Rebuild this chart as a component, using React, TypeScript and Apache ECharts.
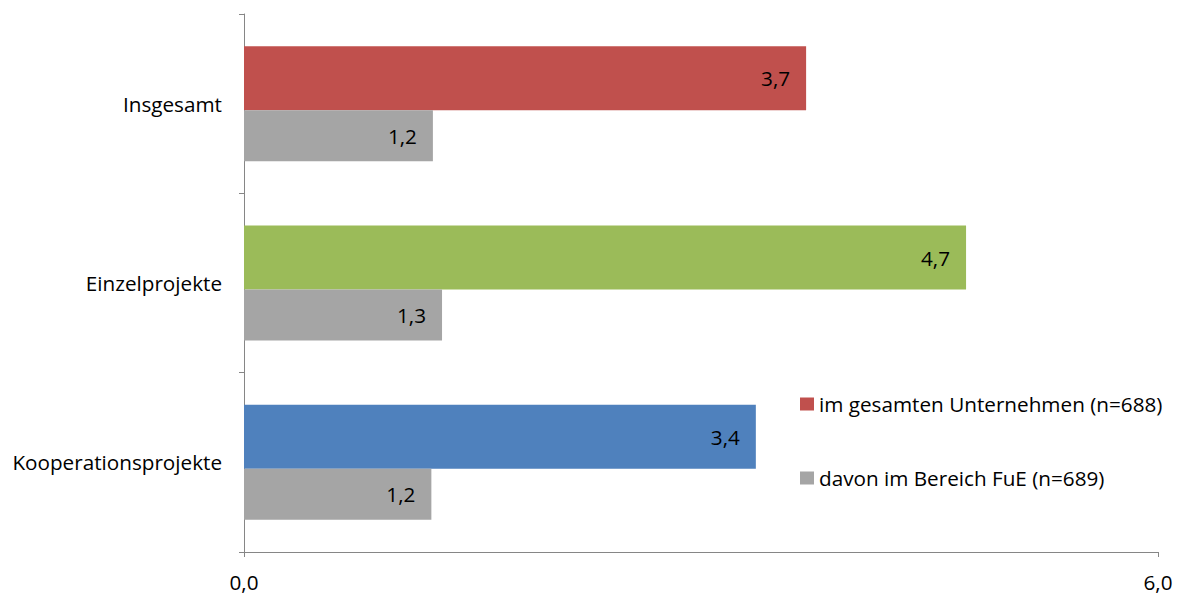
import React, { useEffect, useRef } from "react";
import * as echarts from "echarts";

const categories = ["Insgesamt", "Einzelprojekte", "Kooperationsprojekte"];
const seriesNames = ["im gesamten Unternehmen (n=688)", "davon im Bereich FuE (n=689)"];
const gesamtValues = [3.69, 4.74, 3.36];
const fueValues = [1.24, 1.3, 1.23];
const categoryColors = ["#C0504D", "#9BBB59", "#4F81BD"];
const grayColor = "#A5A5A5";
const xTicks = [0, 6];

const FONT = "'Open Sans', sans-serif";
const FS = 20.7;
const fmt = (v: number) => v.toFixed(1).replace(".", ",");

export default function App() {
  const ref = useRef<HTMLDivElement>(null);
  useEffect(() => {
    if (!ref.current) return;
    const chart = echarts.init(ref.current, null, { renderer: "svg" });
    const labelCfg = {
      show: true,
      position: "insideRight",
      distance: 16,
      color: "#000",
      fontSize: FS,
      fontFamily: FONT,
      formatter: (p: any) => fmt(p.value),
    };
    chart.setOption({
      animation: false,
      textStyle: { fontFamily: FONT },
      grid: { left: 244, right: 22, top: 14, bottom: 43, containLabel: false },
      legend: {
        orient: "vertical",
        left: 795,
        top: 387,
        icon: "rect",
        itemWidth: 14,
        itemHeight: 13,
        itemGap: 50,
        textStyle: { fontSize: FS, color: "#000", fontFamily: FONT, lineHeight: 24 },
        data: [
          { name: seriesNames[0], itemStyle: { color: categoryColors[0] } },
          { name: seriesNames[1], itemStyle: { color: grayColor } },
        ],
      },
      xAxis: {
        type: "value",
        min: xTicks[0],
        max: xTicks[1],
        interval: 6,
        axisLine: { show: true, lineStyle: { color: "#868686", width: 1 } },
        axisTick: { show: true, length: 5, lineStyle: { color: "#868686" } },
        splitLine: { show: false },
        axisLabel: { formatter: (v: number) => fmt(v), fontSize: FS, color: "#000", margin: 19, fontFamily: FONT },
      },
      yAxis: {
        type: "category",
        inverse: true,
        data: categories,
        axisLine: { show: true, lineStyle: { color: "#868686", width: 1 } },
        axisTick: { show: true, length: 5, lineStyle: { color: "#868686" } },
        axisLabel: { fontSize: FS, color: "#000", margin: 22, fontFamily: FONT },
      },
      series: [
        {
          name: seriesNames[0],
          type: "bar",
          barWidth: 64,
          barGap: "0%",
          itemStyle: { color: categoryColors[0] },
          data: gesamtValues.map((v, i) => ({ value: v, itemStyle: { color: categoryColors[i] } })),
          label: labelCfg,
        },
        {
          name: seriesNames[1],
          type: "bar",
          barWidth: 51,
          barGap: "0%",
          itemStyle: { color: grayColor },
          data: fueValues,
          label: labelCfg,
        },
      ],
    });
    return () => chart.dispose();
  }, []);
  return <div ref={ref} style={{ width: 1180, height: 595, position: "absolute", left: 0, top: 0 }} />;
}
